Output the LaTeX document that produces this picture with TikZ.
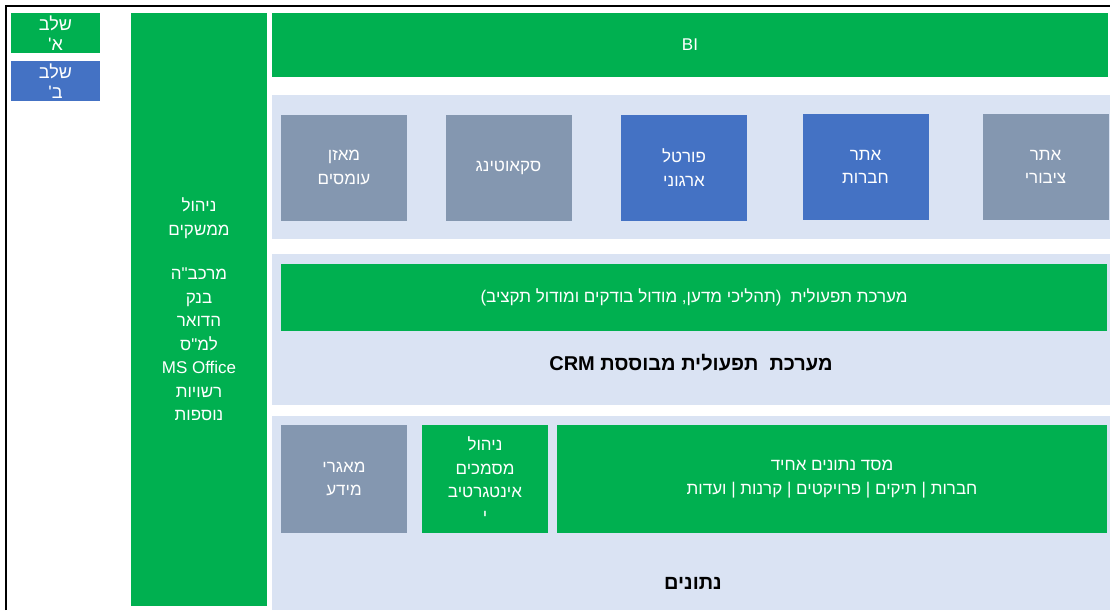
\documentclass[tikz,border=0pt]{standalone}
\usepackage{fontspec}
\setmainfont{Liberation Sans}
\newfontfamily\hebfont[Script=Hebrew]{Liberation Sans}
\TeXXeTstate=1
\newcommand{\hebline}[1]{{\hebfont\beginR #1\endR}}
\definecolor{boxgreen}{HTML}{00B050}
\definecolor{boxblue}{HTML}{4472C4}
\definecolor{boxgray}{HTML}{8497B0}
\definecolor{panelblue}{HTML}{DAE3F3}

\begin{document}
\begin{tikzpicture}[x=1pt, y=-1pt,
  every node/.style={font=\fontsize{17}{23.5}\selectfont, text=white, align=center, inner sep=0pt},
  green/.style={fill=boxgreen},
  blue/.style={fill=boxblue},
  gray/.style={fill=boxgray},
  panel/.style={fill=panelblue, minimum width=838pt},
  tile/.style={minimum width=126pt, minimum height=106pt},
  stage/.style={minimum width=89pt, minimum height=40pt, font=\fontsize{18}{20}\selectfont},
  title/.style={text=black, font=\fontsize{20}{22}\selectfont\bfseries}]
\useasboundingbox (0, 0) rectangle (1110, 610);
\draw[line width=2.5pt] (6, 610) -- (6, 6) -- (1110, 6);

% stages
\node[stage, green] (stageA) at (55.5, 33) {\hebline{שלב}\\\hebline{א'}};
\node[stage, blue] (stageB) at (55.5, 81) {\hebline{שלב}\\\hebline{ב'}};

% left column
\node[green, minimum width=136pt, minimum height=593pt] (mgmt) at (199, 309.5)
  {\hebline{ניהול}\\\hebline{ממשקים}\\[21pt]\hebline{מרכב"ה}\\\hebline{בנק}\\\hebline{הדואר}\\
   \hebline{למ"ס}\\MS Office\\\hebline{רשויות}\\\hebline{נוספות}};

\node[green, minimum width=836pt, minimum height=64pt] (bi) at (690, 45) {BI};

% channels
\node[panel, minimum height=144pt] (channels) at (691, 167) {};
\node[tile, gray] (balance) at (344, 167.5) {\hebline{מאזן}\\\hebline{עומסים}};
\node[tile, gray] (scout) at (508.5, 167.5) {\hebline{סקאוטינג}};
\node[tile, blue] (portal) at (684, 167.5) {\hebline{פורטל}\\\hebline{ארגוני}};
\node[tile, blue] (compsite) at (865.5, 167) {\hebline{אתר}\\\hebline{חברות}};
\node[tile, gray] (pubsite) at (1045.5, 167) {\hebline{אתר}\\\hebline{ציבורי}};

% operations
\node[panel, minimum height=151pt] (ops) at (691, 329.5) {};
\node[green, minimum width=826pt, minimum height=67pt] (opbar) at (694, 297.5)
  {\hebline{מערכת תפעולית\ \ (תהליכי מדען, מודול בודקים ומודול תקציב)}};
\node[title] (crm) at (691, 363) {\hebline{מערכת\ \ תפעולית מבוססת \beginL CRM\endL}};

% data
\node[panel, minimum height=194pt] (data) at (691, 513) {};
\node[tile, gray, minimum height=108pt] (repo) at (344, 479) {\hebline{מאגרי}\\\hebline{מידע}};
\node[tile, green, minimum height=108pt] (docs) at (485, 479)
  {\hebline{ניהול}\\\hebline{מסמכים}\\\hebline{אינטגרטיב}\\\hebline{י}};
\node[green, minimum width=550pt, minimum height=108pt] (db) at (832, 479)
  {\hebline{מסד נתונים אחיד}\\\hebline{חברות | תיקים | פרויקטים | קרנות | ועדות}};
\node[title] (datalbl) at (693, 583) {\hebline{נתונים}};
\end{tikzpicture}
\end{document}
